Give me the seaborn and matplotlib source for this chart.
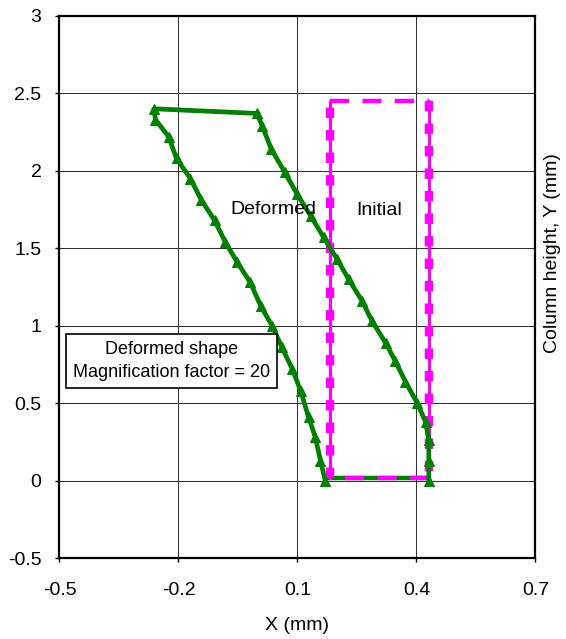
import pandas as pd
import matplotlib
matplotlib.use("Agg")
import matplotlib.pyplot as plt
import seaborn as sns

# deformed shape (magnified), left edge bottom -> top
left_x = [0.170, 0.158, 0.145, 0.128, 0.108, 0.087, 0.061, 0.036, 0.007, -0.019,
          -0.052, -0.082, -0.109, -0.142, -0.170, -0.205, -0.225, -0.258, -0.262]
left_y = [0.00, 0.13, 0.28, 0.41, 0.58, 0.72, 0.86, 1.00, 1.13, 1.28,
          1.41, 1.54, 1.68, 1.81, 1.95, 2.08, 2.22, 2.33, 2.40]

# right edge top -> bottom
right_x = [-0.002, 0.011, 0.034, 0.068, 0.099, 0.133, 0.166, 0.200, 0.229, 0.263,
           0.288, 0.322, 0.347, 0.372, 0.402, 0.423, 0.431, 0.431, 0.431]
right_y = [2.37, 2.29, 2.14, 1.99, 1.85, 1.71, 1.57, 1.43, 1.30, 1.16,
           1.03, 0.89, 0.77, 0.64, 0.50, 0.38, 0.26, 0.13, 0.00]

# base of deformed shape
base_x = [0.431, 0.175]
base_y = [0.02, 0.02]

# initial column outline
init_x = [0.181, 0.181, 0.431, 0.431, 0.181]
init_y = [0.02, 2.45, 2.45, 0.02, 0.02]

x_ticks = [-0.5, -0.2, 0.1, 0.4, 0.7]
y_ticks = [-0.5, 0, 0.5, 1, 1.5, 2, 2.5, 3]

sns.set_theme(style="white")
plt.rcParams["font.family"] = ["Liberation Sans", "DejaVu Sans"]
plt.rcParams["text.color"] = "black"

GREEN = "#008000"
MAGENTA = "#FF00FF"

fig = plt.figure(figsize=(5.66, 6.39), dpi=100)
ax = fig.add_axes([0.1051, 0.1263, 0.841, 0.849])

deformed = pd.DataFrame({"x": left_x + right_x, "y": left_y + right_y})
sns.lineplot(data=deformed, x="x", y="y", sort=False, estimator=None, ax=ax,
             color=GREEN, lw=3.4, marker="^", markersize=7, markeredgecolor=GREEN,
             zorder=5)
sns.lineplot(x=base_x, y=base_y, sort=False, estimator=None, ax=ax,
             color=GREEN, lw=3.2, zorder=3)

# initial shape: sides look like squares on a thin line, top/bottom are dashed
for i in (0, 2):
    xs, ys = init_x[i:i + 2], init_y[i:i + 2]
    ax.plot(xs, ys, color=MAGENTA, lw=2.2, zorder=4)
    ax.plot(xs, ys, color=MAGENTA, lw=6, dashes=(1.25, 1.45), zorder=4)
for i in (1, 3):
    xs, ys = init_x[i:i + 2], init_y[i:i + 2]
    ax.plot(xs, ys, color=MAGENTA, lw=3.2, dashes=(4.3, 3.0), zorder=4)

ax.text(0.038, 1.75, "Deformed", ha="center", va="center", fontsize=14,
        color="black", zorder=6)
ax.text(0.306, 1.745, "Initial", ha="center", va="center", fontsize=14,
        color="black", zorder=6)
ax.text(-0.2177, 0.773, "Deformed shape\nMagnification factor = 20",
        ha="center", va="center", multialignment="center", fontsize=13,
        color="black", linespacing=1.45, zorder=7,
        bbox=dict(boxstyle="square,pad=0.4", fc="white", ec="black", lw=1.2))

ax.set_xlim(-0.5, 0.7)
ax.set_ylim(-0.5, 3)
ax.set_xticks(x_ticks)
ax.set_xticklabels([f"{v:g}" for v in x_ticks])
ax.set_yticks(y_ticks)
ax.set_yticklabels([f"{v:g}" for v in y_ticks])
ax.grid(True, color="#333333", lw=0.75)
ax.set_axisbelow(True)
for s in ax.spines.values():
    s.set_color("black")
    s.set_linewidth(1.6)
ax.tick_params(axis="both", direction="out", length=3, width=1, color="black",
               labelsize=14, labelcolor="black")
ax.tick_params(axis="x", pad=14, bottom=True)
ax.tick_params(axis="y", pad=10, left=True)

ax.set_xlabel("X (mm)", fontsize=14, color="black")
ax.xaxis.set_label_coords(0.5, -0.108)
ax.yaxis.set_label_position("right")
ax.set_ylabel("Column height, Y (mm)", fontsize=14, color="black")
ax.yaxis.set_label_coords(1.018, 0.5635)

fig.savefig("out.png", dpi=100)
